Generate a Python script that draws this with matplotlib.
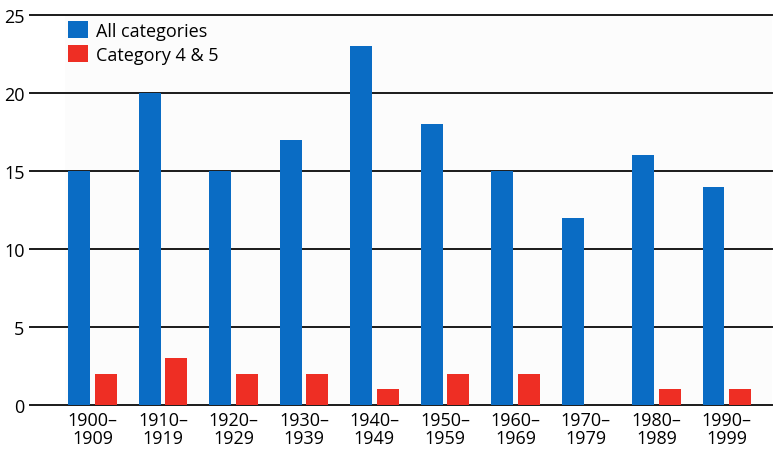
import matplotlib
matplotlib.use("Agg")
import matplotlib.pyplot as plt
import numpy as np

decades = ["1900–\n1909", "1910–\n1919", "1920–\n1929", "1930–\n1939", "1940–\n1949",
           "1950–\n1959", "1960–\n1969", "1970–\n1979", "1980–\n1989", "1990–\n1999"]
all_categories = [15, 20, 15, 17, 23, 18, 15, 12, 16, 14]
category_4_5 = [2, 3, 2, 2, 1, 2, 2, 0, 1, 1]
yticks = [0, 5, 10, 15, 20, 25]

plt.rcParams['font.family'] = ['Open Sans', 'DejaVu Sans']

fig = plt.figure(figsize=(7.75, 4.56), dpi=100)
ax = fig.add_axes([30/775, 50/456, 742/775, 390/456])

x = np.arange(len(decades))
w = 0.312
off = 0.19
ax.axvspan(-0.39, 9.7, color="#fcfcfc", zorder=0, lw=0)
for y in yticks:
    ax.axhline(y, color="#1a1a1a", lw=1.4, zorder=1, clip_on=False)
ax.bar(x - off, all_categories, width=w, color="#0a6cc4", zorder=2, label="All categories")
ax.bar(x + off, category_4_5, width=w, color="#ee2e24", zorder=2, label="Category 4 & 5")

ax.set_xlim(-0.887, 9.64)
ax.set_ylim(0, 25)
ax.set_yticks(yticks)
ax.set_yticklabels([str(v) for v in yticks], fontsize=13)
ax.set_xticks(x)
ax.set_xticklabels(decades, fontsize=13, linespacing=1.0)
ax.tick_params(axis='both', length=0)
ax.tick_params(axis='y', pad=4)
ax.tick_params(axis='x', pad=4)
for s in ax.spines.values():
    s.set_visible(False)

ax.legend(loc="upper left", bbox_to_anchor=(0.051, 0.985), frameon=False, fontsize=13,
          borderpad=0, borderaxespad=0, handlelength=1.1, handleheight=1.1,
          handletextpad=0.45, labelspacing=0.3)

fig.savefig("out.png", dpi=100)
